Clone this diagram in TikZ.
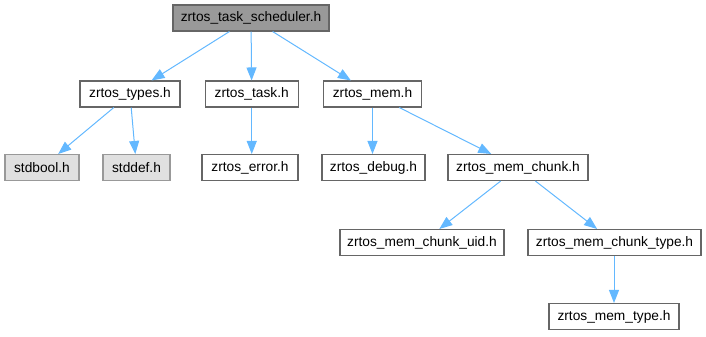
\documentclass[tikz,border=0pt]{standalone}
\usepackage{fontspec}
\setmainfont{Liberation Sans}
\usetikzlibrary{arrows.meta}
\definecolor{edgeblue}{HTML}{63B8FF}
\definecolor{rootfill}{HTML}{999999}
\definecolor{boxline}{HTML}{666666}
\definecolor{sysfill}{HTML}{E0E0E0}
\definecolor{sysline}{HTML}{999999}
\begin{document}
\begin{tikzpicture}[x=0.75pt,y=-0.75pt,
  hdr/.style={draw=boxline,fill=white,line width=0.8pt,inner sep=0pt,
    minimum height=19.5pt,font=\fontsize{10.3pt}{12pt}\selectfont},
  rootbox/.style={hdr,fill=rootfill},
  sysbox/.style={hdr,draw=sysline,fill=sysfill},
  inc/.style={draw=edgeblue,line width=0.75pt,
    -{Triangle[length=9.75pt,width=7.5pt]}}]
\useasboundingbox (0,0) rectangle (706,336);
% header boxes, placed by centre; widths in pt
\node[rootbox,minimum width=117pt] (sched) at (251,18) {zrtos\_task\_scheduler.h};
\node[hdr,minimum width=75pt] (types) at (130,94) {zrtos\_types.h};
\node[hdr,minimum width=69.75pt] (task) at (251.75,94) {zrtos\_task.h};
\node[hdr,minimum width=73.5pt] (mem) at (372.5,94) {zrtos\_mem.h};
\node[sysbox,minimum width=55.5pt] (stdbool) at (42,167.5) {stdbool.h};
\node[sysbox,minimum width=50.25pt] (stddef) at (136.5,167.5) {stddef.h};
\node[hdr,minimum width=72pt] (error) at (250,167.5) {zrtos\_error.h};
\node[hdr,minimum width=77.25pt] (debug) at (373.5,167.5) {zrtos\_debug.h};
\node[hdr,minimum width=105pt] (chunk) at (518,167.5) {zrtos\_mem\_chunk.h};
\node[hdr,minimum width=123pt] (uid) at (422,242.5) {zrtos\_mem\_chunk\_uid.h};
\node[hdr,minimum width=129.75pt] (ctype) at (614.5,242.5) {zrtos\_mem\_chunk\_type.h};
\node[hdr,minimum width=97.5pt] (mtype) at (614,316.5) {zrtos\_mem\_type.h};
% include edges
\draw[inc] (sched) -- (types);
\draw[inc] (sched) -- (task);
\draw[inc] (sched) -- (mem);
\draw[inc] (types) -- (stdbool);
\draw[inc] (types) -- (stddef);
\draw[inc] (task) -- (task |- error.north);
\draw[inc] (mem) -- (mem |- debug.north);
\draw[inc] (mem) -- (chunk);
\draw[inc] (chunk) -- (uid);
\draw[inc] (chunk) -- (ctype);
\draw[inc] (mtype |- ctype.south) -- (mtype);
\end{tikzpicture}
\end{document}
